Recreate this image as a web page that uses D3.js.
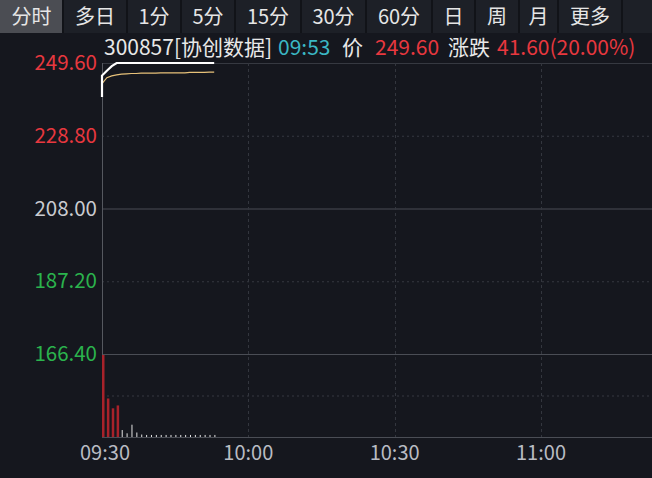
<!DOCTYPE html>
<html><head><meta charset="utf-8">
<script src="https://cdn.jsdelivr.net/npm/d3@7"></script>
<style>
html,body{margin:0;padding:0;background:#15171e;}
svg{display:block;}
text{font-family:"Noto Sans CJK SC","Noto Sans",sans-serif;}
</style></head>
<body><svg id="c" width="652" height="478"></svg>
<script>
// ---- data ----
const tabs = ["分时","多日","1分","5分","15分","30分","60分","日","周","月","更多"];
const tabEdges = [0,63,127,181,235,301,366,432,475,519,558,622];
const priceTicks = [249.60, 228.80, 208.00, 187.20, 166.40];
const prevClose = 208.00;
const timeTicks = ["09:30","10:00","10:30","11:00"];
const openPrice = 239.9;
// minute-by-minute from 09:30 to 09:53
const minutes = d3.range(0, 24);
const prices = [246.0,247.4,248.7,249.6,249.6,249.6,249.6,249.6,249.6,249.6,249.6,249.6,249.6,249.6,249.6,249.6,249.6,249.6,249.6,249.6,249.6,249.6,249.6,249.6];
const avgPrices = [243.7,245.4,245.9,246.2,246.4,246.5,246.6,246.6,246.7,246.7,246.7,246.7,246.8,246.8,246.8,246.8,246.8,246.8,246.9,246.9,246.9,246.9,247.0,247.0];
const volumes = [1000,470,350,385,85,45,150,55,30,25,25,25,25,25,25,25,25,25,25,25,25,25,25,25];
const volUp = [1,1,1,1,0,0,0,0,0,0,0,0,0,0,0,0,0,0,0,0,0,0,0,0];

const svg = d3.select("#c");
// ---- tab bar ----
const tb = svg.append("g");
tb.append("rect").attr("x",0).attr("y",0).attr("width",652).attr("height",33).attr("fill","#1d2027");
tabs.forEach((t,i)=>{
  const x0=tabEdges[i], x1=tabEdges[i+1];
  if(i===0) tb.append("rect").attr("x",x0).attr("y",0).attr("width",x1-x0).attr("height",33).attr("fill","#4b4d53");
  tb.append("rect").attr("x",x1-1).attr("y",0).attr("width",2).attr("height",33).attr("fill","#111318");
  tb.append("text").attr("x",(x0+x1)/2).attr("y",24).attr("text-anchor","middle")
    .attr("font-size",20).attr("fill","#e6e6e6").text(t);
});

// ---- scales ----
const L=102, R=652, T=63, M=354, B=437;
const x = d3.scaleLinear().domain([0,90]).range([L,541]);
const y = d3.scaleLinear().domain([166.40,249.60]).range([M,T]);
const yv = d3.scaleLinear().domain([0,d3.max(volumes)]).range([B,M+1]);

// ---- grid ----
const g = svg.append("g");
const hl = (yy,dash,col)=>g.append("line").attr("x1",L).attr("x2",R).attr("y1",yy).attr("y2",yy)
   .attr("stroke",col).attr("stroke-width",1).attr("stroke-dasharray",dash);
hl(y(249.60)+0.5,null,"#363941");
hl(y(228.80)+0.5,"2,3","#363941");
hl(y(208.00)+0.5,null,"#4a4d55");
hl(y(187.20)+0.5,"2,3","#363941");
hl(y(166.40)+0.5,null,"#4a4d55");
hl((M+B)/2+0.5,"2,3","#363941");
hl(B+0.5,null,"#4a4d55");
[30,60,90].forEach(m=>{
  g.append("line").attr("x1",Math.round(x(m))+0.5).attr("x2",Math.round(x(m))+0.5).attr("y1",T).attr("y2",B)
   .attr("stroke","#33363e").attr("stroke-dasharray","3,3");
});
g.append("line").attr("x1",L+0.5).attr("x2",L+0.5).attr("y1",T).attr("y2",B).attr("stroke","#55585f");

// ---- y labels ----
const yColor = v => v>prevClose+0.001 ? "#e8383f" : (v<prevClose-0.001 ? "#2bb34d" : "#c9cbd0");
priceTicks.forEach(v=>{
  svg.append("text").attr("x",97).attr("y",y(v)+7).attr("text-anchor","end").attr("font-size",20.5)
    .attr("fill",yColor(v)).text(v.toFixed(2));
});
// ---- x labels ----
timeTicks.forEach(t=>{
  const [h,mm]=t.split(":").map(Number);
  const m=(h*60+mm)-(9*60+30);
  svg.append("text").attr("x",m===0?x(m)+3:x(m)).attr("y",460).attr("text-anchor","middle").attr("font-size",20)
    .attr("fill","#b9bcc3").text(t);
});

// ---- volume ----
minutes.forEach((m,i)=>{
  const up=volUp[i];
  svg.append("rect").attr("x",x(m)+(up?0:0.2)).attr("y",yv(volumes[i]))
    .attr("width",up?2.5:1).attr("height",B-yv(volumes[i]))
    .attr("fill",up?"#a8222a":"#e4e4e4");
});

// ---- lines ----
const pts=[[0,openPrice]].concat(minutes.map((m,i)=>[m,prices[i]]));
const line=d3.line().x(d=>x(d[0])).y(d=>y(d[1]));
svg.append("path").attr("d",line(minutes.map((m,i)=>[m,avgPrices[i]]))).attr("fill","none")
  .attr("stroke","#e7c27a").attr("stroke-width",1.2);
svg.append("path").attr("d",line(pts)).attr("fill","none").attr("stroke","#ffffff").attr("stroke-width",2.2);

// ---- header ----
const hdr = [
  {t:"300857[协创数据]", x:104, c:"#e8e8e8"},
  {t:"09:53", x:278, c:"#3bb7c4"},
  {t:"价", x:342, c:"#e8e8e8"},
  {t:"249.60", x:375, c:"#e8383f"},
  {t:"涨跌", x:448, c:"#e8e8e8"},
  {t:"41.60(20.00%)", x:497, c:"#e8383f"}
];
hdr.forEach(h=>svg.append("text").attr("x",h.x).attr("y",55).attr("font-size",21).attr("fill",h.c).text(h.t));
</script></body></html>
